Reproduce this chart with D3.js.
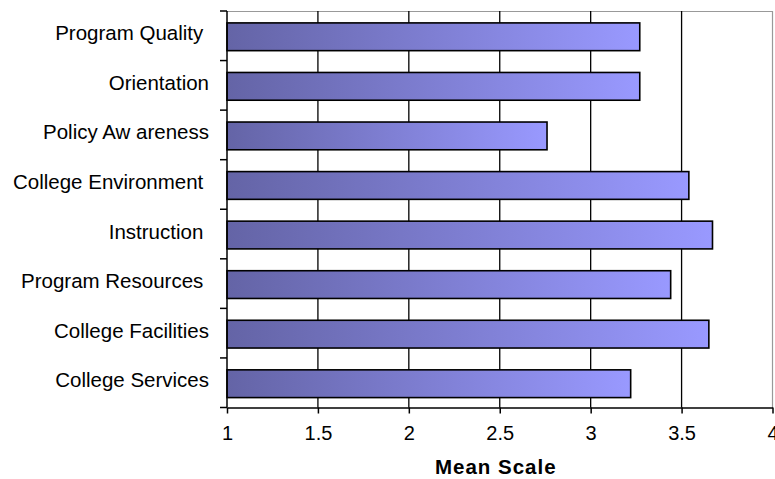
<!DOCTYPE html>
<html>
<head>
<meta charset="utf-8">
<script src="https://cdn.jsdelivr.net/npm/d3@7"></script>
<style>
  html, body { margin: 0; padding: 0; background: #fff; }
  svg { display: block; font-family: "Liberation Sans", Arial, sans-serif; }
  .cat { white-space: pre; }
</style>
</head>
<body>
<svg id="chart" width="775" height="479"></svg>
<script>
// Survey dimensions, top to bottom
const categories = [
  "Program Quality ",
  "Orientation",
  "Policy Aw areness",
  "College Environment ",
  "Instruction ",
  "Program Resources ",
  "College Facilities",
  "College Services"
];
// Mean scale score per dimension
const meanScores = [3.27, 3.27, 2.76, 3.54, 3.67, 3.44, 3.65, 3.22];
const xTicks = [1, 1.5, 2, 2.5, 3, 3.5, 4];
const xTickLabels = ["1", "1.5", "2", "2.5", "3", "3.5", "4"];
const axisTitle = "Mean Scale";

const svg = d3.select("#chart");
const plot = { left: 227, right: 772.5, top: 11, bottom: 407.5 };

const x = d3.scaleLinear().domain([1, 4]).range([plot.left, plot.right]);
const y = d3.scaleBand().domain(categories).range([plot.top, plot.bottom])
  .paddingInner(0.44).paddingOuter(0.22);

// Horizontal gradient, dark slate on the left to light periwinkle on the right
const defs = svg.append("defs");
const grad = defs.append("linearGradient").attr("id", "barFill")
  .attr("x1", "0%").attr("x2", "100%").attr("y1", "0%").attr("y2", "0%");
grad.append("stop").attr("offset", "0%").attr("stop-color", "#6464a6");
grad.append("stop").attr("offset", "100%").attr("stop-color", "#9999ff");

// Plot frame: grey top and right edges
svg.append("line").attr("x1", plot.left).attr("x2", plot.right)
  .attr("y1", plot.top + 0.5).attr("y2", plot.top + 0.5)
  .attr("stroke", "#999").attr("stroke-width", 1.2);
svg.append("line").attr("x1", plot.right).attr("x2", plot.right)
  .attr("y1", plot.top).attr("y2", plot.bottom)
  .attr("stroke", "#999").attr("stroke-width", 1.2);

// Vertical gridlines
svg.append("g").selectAll("line")
  .data(xTicks.filter(d => d > 1 && d < 4))
  .join("line")
  .attr("x1", d => x(d)).attr("x2", d => x(d))
  .attr("y1", plot.top).attr("y2", plot.bottom)
  .attr("stroke", "#000").attr("stroke-width", 1.3);

// Bars
svg.append("g").selectAll("rect")
  .data(categories)
  .join("rect")
  .attr("x", x(1))
  .attr("y", d => y(d) + 1)
  .attr("width", (d, i) => x(meanScores[i]) - x(1))
  .attr("height", y.bandwidth())
  .attr("fill", "url(#barFill)")
  .attr("stroke", "#000")
  .attr("stroke-width", 1.6);

// X axis
const xAxis = d3.axisBottom(x)
  .tickValues(xTicks)
  .tickFormat((d, i) => xTickLabels[i])
  .tickSizeInner(6).tickSizeOuter(0).tickPadding(12);
const gx = svg.append("g").attr("transform", `translate(0,${plot.bottom})`).call(xAxis);
gx.select(".domain").attr("stroke", "#000").attr("stroke-width", 1.5);
gx.selectAll(".tick line").attr("stroke", "#000").attr("stroke-width", 1.5);
gx.selectAll(".tick text").attr("font-size", 20).attr("fill", "#000")
  .attr("font-family", "'Liberation Sans', Arial, sans-serif");

// Y axis line with ticks at category boundaries
const gy = svg.append("g");
gy.append("line").attr("x1", plot.left).attr("x2", plot.left)
  .attr("y1", plot.top).attr("y2", plot.bottom)
  .attr("stroke", "#000").attr("stroke-width", 1.5);
gy.selectAll("line.tk")
  .data(d3.range(categories.length + 1))
  .join("line").attr("class", "tk")
  .attr("x1", plot.left - 7).attr("x2", plot.left)
  .attr("y1", i => plot.top + i * y.step())
  .attr("y2", i => plot.top + i * y.step())
  .attr("stroke", "#000").attr("stroke-width", 1.5);

// Category labels
svg.append("g").selectAll("text")
  .data(categories)
  .join("text")
  .attr("class", "cat")
  .attr("x", 209)
  .attr("y", d => y(d) + y.bandwidth() / 2 + 4.5)
  .attr("text-anchor", "end")
  .attr("font-size", 20.5)
  .attr("fill", "#000")
  .text(d => d);

// Axis title
svg.append("text")
  .attr("x", (plot.left + plot.right) / 2 - 4)
  .attr("y", 474)
  .attr("text-anchor", "middle")
  .attr("font-size", 20.5)
  .attr("font-weight", "bold")
  .attr("letter-spacing", 1)
  .attr("fill", "#000")
  .text(axisTitle);
</script>
</body>
</html>
